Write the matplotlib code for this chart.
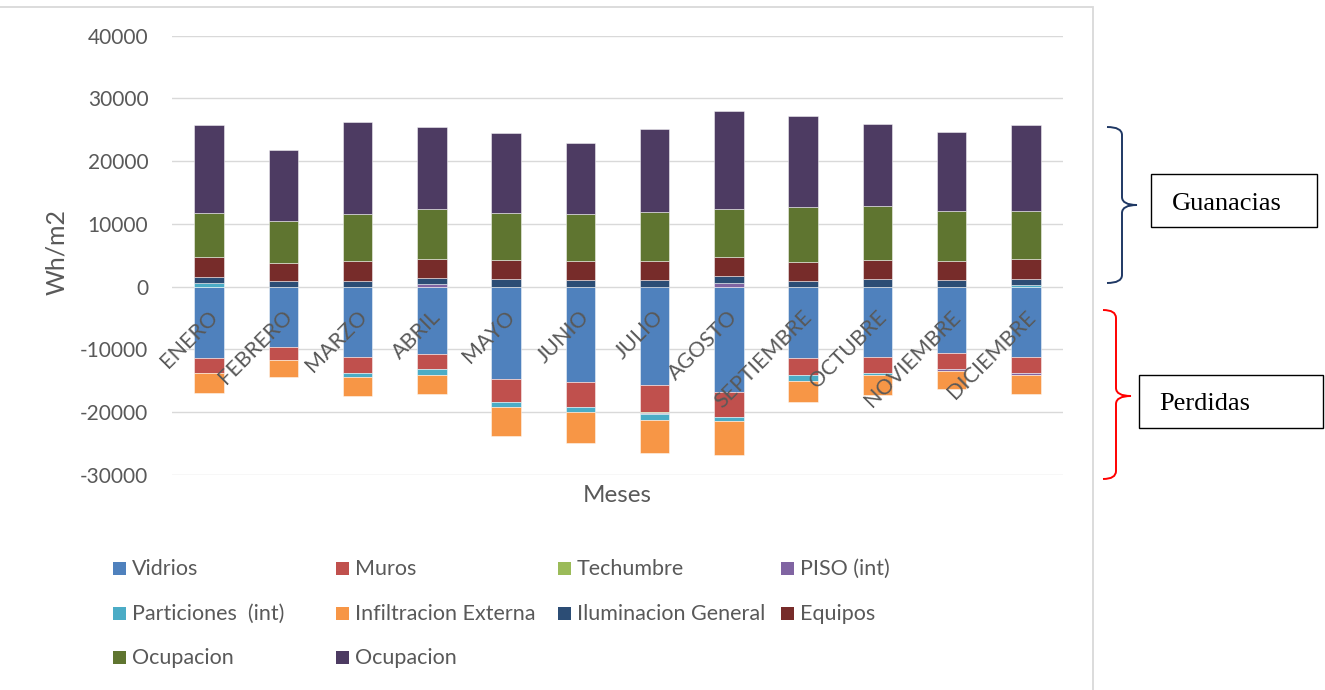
import matplotlib
matplotlib.use("Agg")
import matplotlib.pyplot as plt
import numpy as np
from matplotlib.path import Path
from matplotlib.patches import PathPatch, Rectangle
from matplotlib.transforms import Affine2D, offset_copy

plt.rcParams['font.family'] = ['Lato', 'DejaVu Sans']

# ---- data (Wh/m2 per month) ----
meses = ["ENERO", "FEBRERO", "MARZO", "ABRIL", "MAYO", "JUNIO", "JULIO",
         "AGOSTO", "SEPTIEMBRE", "OCTUBRE", "NOVIEMBRE", "DICIEMBRE"]

vidrios = [-11365, -9620, -11205, -10680, -14700, -15175, -15710, -16710,
           -11365, -11155, -10520, -11205]
muros = [-2380, -2060, -2540, -2430, -3650, -3965, -4175, -3970,
         -2695, -2590, -2540, -2540]
techumbre = [0, 0, 0, 0, 0, 0, -250, 0, 0, 0, 0, 0]
piso = [0, 0, 0, 500, 0, 0, -200, 600, 0, 0, -320, -270]
particiones = [530, 0, -585, -905, -790, -745, -980, -795, -905, -270, 0, 270]
infiltracion = [-3175, -2650, -3125, -3065, -4665, -4970, -5125, -5285,
                -3335, -3175, -2965, -3015]
iluminacion = [960, 950, 950, 930, 1220, 1015, 1110, 1050, 905, 1170, 1015, 950]
equipos = [3170, 2810, 3080, 3015, 3065, 3015, 3015, 3110, 3015, 3065, 3015, 3130]
ocupacion_1 = [7080, 6775, 7555, 7995, 7520, 7555, 7775, 7620, 8730, 8685, 8095, 7775]
ocupacion_2 = [14030, 11265, 14600, 13015, 12695, 11375, 13235, 15660,
               14550, 13010, 12585, 13650]

series_names = ["Vidrios", "Muros", "Techumbre", "PISO (int)", "Particiones  (int)",
                "Infiltracion Externa", "Iluminacion General", "Equipos",
                "Ocupacion", "Ocupacion"]
series_values = [vidrios, muros, techumbre, piso, particiones, infiltracion,
                 iluminacion, equipos, ocupacion_1, ocupacion_2]
series_colors = ["#4F81BD", "#C0504D", "#9BBB59", "#8064A2", "#4BACC6",
                 "#F79646", "#2C4D75", "#772C2A", "#5F7530", "#4D3B62"]

y_ticks = [-30000, -20000, -10000, 0, 10000, 20000, 30000, 40000]

W, H = 1325, 690
fig = plt.figure(figsize=(W / 100, H / 100), dpi=100)
# pixel coordinates with origin at the top-left corner
px = Affine2D().scale(1 / W, -1 / H).translate(0, 1) + fig.transFigure

ax_l, ax_r, ax_t, ax_b = 172, 1063, 35.7, 475
ax = fig.add_axes([ax_l / W, 1 - ax_b / H, (ax_r - ax_l) / W, (ax_b - ax_t) / H])

x = np.arange(len(meses))
pos_base = np.zeros(len(meses))
neg_base = np.zeros(len(meses))
for vals, col in zip(series_values, series_colors):
    v = np.asarray(vals, dtype=float)
    bottom = np.where(v >= 0, pos_base, neg_base)
    ax.bar(x, v, 0.4, bottom=bottom, color=col, edgecolor=(1, 1, 1, 0.55),
           linewidth=0.6, zorder=3)
    pos_base += np.where(v > 0, v, 0)
    neg_base += np.where(v < 0, v, 0)

ax.set_xlim(-0.5, len(meses) - 0.5)
ax.set_ylim(-30000, 40000)
ax.set_yticks(y_ticks)
ax.set_yticklabels([str(t) for t in y_ticks])
ax.set_xticks([])
ax.tick_params(axis='y', length=0, pad=17, labelsize=15, labelcolor="#595959")
ax.grid(axis='y', color="#D9D9D9", linewidth=1.0, zorder=0)
for s in ax.spines.values():
    s.set_visible(False)

# month labels sit just under the zero line
lab_tr = offset_copy(ax.transData, fig=fig, x=-1, y=-20, units='dots')
for i, m in enumerate(meses):
    ax.text(i, 0, m, transform=lab_tr, rotation=45, rotation_mode='anchor',
            ha='right', va='top', fontsize=15.5, color="#595959", zorder=4)

ax.set_ylabel("Wh/m2", fontsize=18, color="#595959")
ax.yaxis.set_label_coords(-0.117, 0.508)
ax.set_xlabel("Meses", fontsize=17.5, color="#595959")
ax.xaxis.set_label_coords(0.5, -0.022)

# legend laid out as a 4-column grid
leg_cols = [113, 336, 558, 781]
leg_rows = [568, 613, 657]
for k, (name, col) in enumerate(zip(series_names, series_colors)):
    cx = leg_cols[k % 4]
    cy = leg_rows[k // 4]
    fig.patches.append(Rectangle((cx, cy - 6.5), 13, 13, transform=px,
                                 facecolor=col, edgecolor='none'))
    fig.text(cx + 19, cy + 1, name, transform=px, ha='left', va='center',
             fontsize=15.5, color="#595959")

# outer chart frame
fig.patches.append(Rectangle((-5, 7), 1098, 700, transform=px, fill=False,
                             edgecolor="#D9D9D9", linewidth=1.3))


def brace(x_left, x_mid, x_tip, y_top, y_mid, y_bot, color, r=8):
    verts = [(x_left, y_top), (x_mid, y_top), (x_mid, y_top + r),
             (x_mid, y_mid - r), (x_mid, y_mid), (x_tip, y_mid),
             (x_mid, y_mid), (x_mid, y_mid + r),
             (x_mid, y_bot - r), (x_mid, y_bot), (x_left, y_bot)]
    codes = [Path.MOVETO, Path.CURVE3, Path.CURVE3,
             Path.LINETO, Path.CURVE3, Path.CURVE3,
             Path.CURVE3, Path.CURVE3,
             Path.LINETO, Path.CURVE3, Path.CURVE3]
    fig.patches.append(PathPatch(Path(verts, codes), transform=px, fill=False,
                                 edgecolor=color, linewidth=1.4))


brace(1107, 1122, 1137, 127, 205, 283, "#1F3864")
brace(1103, 1116, 1131, 310, 396, 479, "#FF0000")

for (x0, y0, x1, y1), txt, tx, ty in [((1151, 174, 1317, 227), "Guanacias", 1172, 210),
                                       ((1139, 375, 1323, 428), "Perdidas", 1159, 410)]:
    fig.patches.append(Rectangle((x0, y0), x1 - x0, y1 - y0, transform=px,
                                 fill=False, edgecolor="black", linewidth=1.0))
    fig.text(tx, ty, txt, transform=px, ha='left', va='baseline',
             fontsize=19, family="Liberation Serif", color="black")

fig.savefig("out.png", dpi=100, facecolor="white")
